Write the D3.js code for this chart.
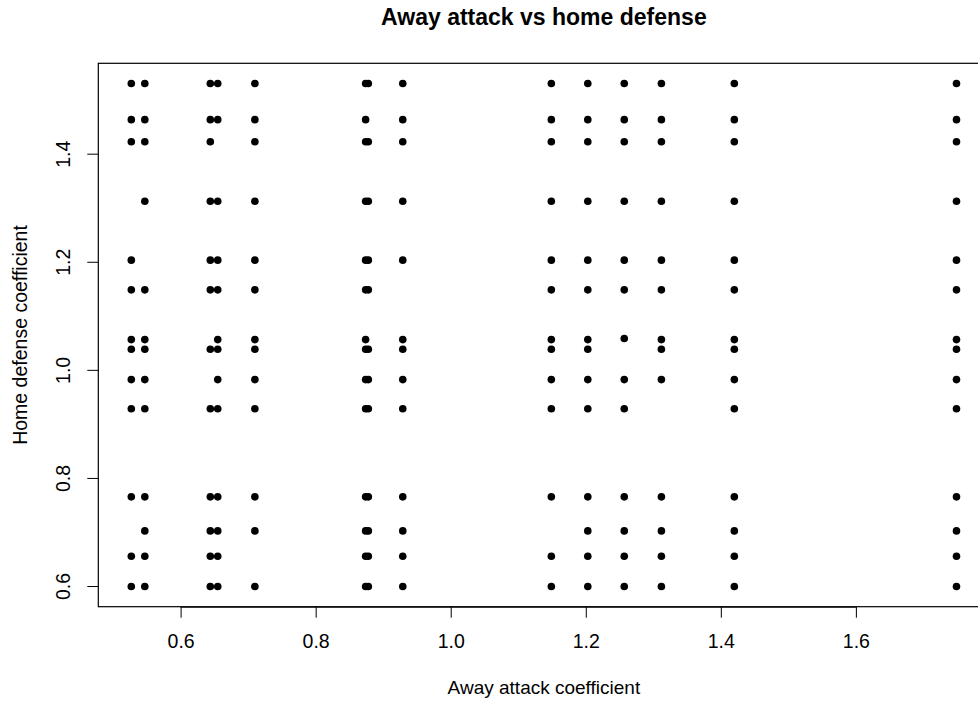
<!DOCTYPE html>
<html>
<head>
<meta charset="utf-8">
<script src="https://cdn.jsdelivr.net/npm/d3@7"></script>
<style>
	body { margin: 0; background: #fff; }
	#chartDiv { width: 978px; height: 702px; overflow: hidden; }
	text { font-family: "Liberation Sans", Arial, sans-serif; fill: #000; }
</style>
</head>
<body>
<div id="chartDiv"></div>
<script>
// away attack coefficient of each team (one column of points per team)
var awayAttack = [0.527, 0.547, 0.644, 0.655, 0.710, 0.874, 0.878, 0.929,
	1.149, 1.203, 1.257, 1.312, 1.420, 1.749];

// home defense coefficients met by each away attack value
var homeDefense = [
	[1.530, 1.463, 1.422, 1.203, 1.148, 1.056, 1.038, 0.982, 0.928, 0.765, 0.655, 0.599],
	[1.530, 1.463, 1.422, 1.312, 1.148, 1.056, 1.038, 0.982, 0.928, 0.765, 0.702, 0.655, 0.599],
	[1.530, 1.463, 1.422, 1.312, 1.203, 1.148, 1.038, 0.928, 0.765, 0.702, 0.655, 0.599],
	[1.530, 1.463, 1.312, 1.203, 1.148, 1.056, 1.038, 0.982, 0.928, 0.765, 0.702, 0.655, 0.599],
	[1.530, 1.463, 1.422, 1.312, 1.203, 1.148, 1.056, 1.038, 0.982, 0.928, 0.765, 0.702, 0.599],
	[1.530, 1.463, 1.422, 1.312, 1.203, 1.148, 1.056, 1.038, 0.982, 0.928, 0.765, 0.702, 0.655, 0.599],
	[1.530, 1.422, 1.312, 1.203, 1.148, 1.038, 0.982, 0.928, 0.765, 0.702, 0.655, 0.599],
	[1.530, 1.463, 1.422, 1.312, 1.203, 1.056, 1.038, 0.982, 0.928, 0.765, 0.702, 0.655, 0.599],
	[1.530, 1.463, 1.422, 1.312, 1.203, 1.148, 1.056, 1.038, 0.982, 0.928, 0.765, 0.655, 0.599],
	[1.530, 1.463, 1.422, 1.312, 1.203, 1.148, 1.056, 1.038, 0.982, 0.928, 0.765, 0.702, 0.655, 0.599],
	[1.530, 1.463, 1.422, 1.312, 1.203, 1.148, 1.058, 0.982, 0.928, 0.765, 0.702, 0.655, 0.599],
	[1.530, 1.463, 1.422, 1.312, 1.203, 1.148, 1.056, 1.038, 0.982, 0.765, 0.702, 0.655, 0.599],
	[1.530, 1.463, 1.422, 1.312, 1.203, 1.148, 1.056, 1.038, 0.982, 0.928, 0.765, 0.702, 0.655, 0.599],
	[1.530, 1.463, 1.422, 1.312, 1.203, 1.148, 1.056, 1.038, 0.982, 0.928, 0.765, 0.702, 0.655, 0.599]
];

var xTicks = [0.6, 0.8, 1.0, 1.2, 1.4, 1.6];
var yTicks = [0.6, 0.8, 1.0, 1.2, 1.4];

var chartTitle = "Away attack vs home defense";
var xLabel = "Away attack coefficient";
var yLabel = "Home defense coefficient";

function scatterInit() {
	document.getElementById("chartDiv").innerHTML = "";

	var width = 978, height = 702;
	// plot region like R's base graphics, right edge falls off the picture
	var plot = {left: 98.3, top: 63.3, bottom: 606.7, right: 989.5};

	// flatten columns into points
	var points = [];
	awayAttack.forEach(function(xv, i) {
		homeDefense[i].forEach(function(yv) {
			points.push({x: xv, y: yv});
		});
	});

	// R pads the data range by 4% on each side
	function padded(ext) {
		var r = ext[1] - ext[0];
		return [ext[0] - 0.04 * r, ext[1] + 0.04 * r];
	}

	var x = d3.scaleLinear()
		.domain(padded(d3.extent(points, function(d) { return d.x; })))
		.range([plot.left, plot.right]);
	var y = d3.scaleLinear()
		.domain(padded(d3.extent(points, function(d) { return d.y; })))
		.range([plot.bottom, plot.top]);

	var svg = d3.select("#chartDiv").append("svg")
		.attr("width", width)
		.attr("height", height);

	svg.append("text")
		.attr("x", (plot.left + plot.right) / 2)
		.attr("y", 25)
		.attr("text-anchor", "middle")
		.style("font-size", "23px")
		.style("font-weight", "bold")
		.text(chartTitle);

	// x axis
	var xAxis = svg.append("g")
		.attr("class", "axis axis--x")
		.attr("transform", "translate(0," + plot.bottom + ")")
		.call(d3.axisBottom(x).tickValues(xTicks).tickSize(11).tickPadding(0)
			.tickFormat(d3.format(".1f")));
	xAxis.select(".domain")
		.attr("d", "M" + x(xTicks[0]) + ",0.5H" + x(xTicks[xTicks.length - 1]));
	xAxis.selectAll("text").remove();
	xAxis.selectAll(".tick").append("text")
		.attr("y", 41.5)
		.attr("text-anchor", "middle")
		.style("font-size", "19.5px")
		.text(function(d) { return d3.format(".1f")(d); });

	// y axis, labels turned like R's default
	var yAxis = svg.append("g")
		.attr("class", "axis axis--y")
		.attr("transform", "translate(" + plot.left + ",0)")
		.call(d3.axisLeft(y).tickValues(yTicks).tickSize(11));
	yAxis.select(".domain").remove();
	yAxis.selectAll("text").remove();
	yAxis.selectAll(".tick").append("text")
		.attr("transform", "translate(-28,0) rotate(-90)")
		.attr("text-anchor", "middle")
		.style("font-size", "19.5px")
		.text(function(d) { return d3.format(".1f")(d); });

	svg.selectAll(".axis line, .axis path").attr("stroke", "#000").attr("stroke-width", 1);

	// box round the plot region
	svg.append("rect")
		.attr("x", plot.left)
		.attr("y", plot.top)
		.attr("width", plot.right - plot.left)
		.attr("height", plot.bottom - plot.top)
		.attr("fill", "none")
		.attr("stroke", "#000")
		.attr("stroke-width", 1.2);

	svg.append("g")
		.selectAll("circle")
		.data(points)
		.enter().append("circle")
		.attr("cx", function(d) { return x(d.x); })
		.attr("cy", function(d) { return y(d.y); })
		.attr("r", 3.8)
		.attr("fill", "#000");

	svg.append("text")
		.attr("x", (plot.left + plot.right) / 2)
		.attr("y", 694)
		.attr("text-anchor", "middle")
		.style("font-size", "19px")
		.text(xLabel);

	svg.append("text")
		.attr("transform", "translate(27," + (plot.top + plot.bottom) / 2 + ") rotate(-90)")
		.attr("text-anchor", "middle")
		.style("font-size", "19.5px")
		.text(yLabel);
}

scatterInit();
</script>
</body>
</html>
